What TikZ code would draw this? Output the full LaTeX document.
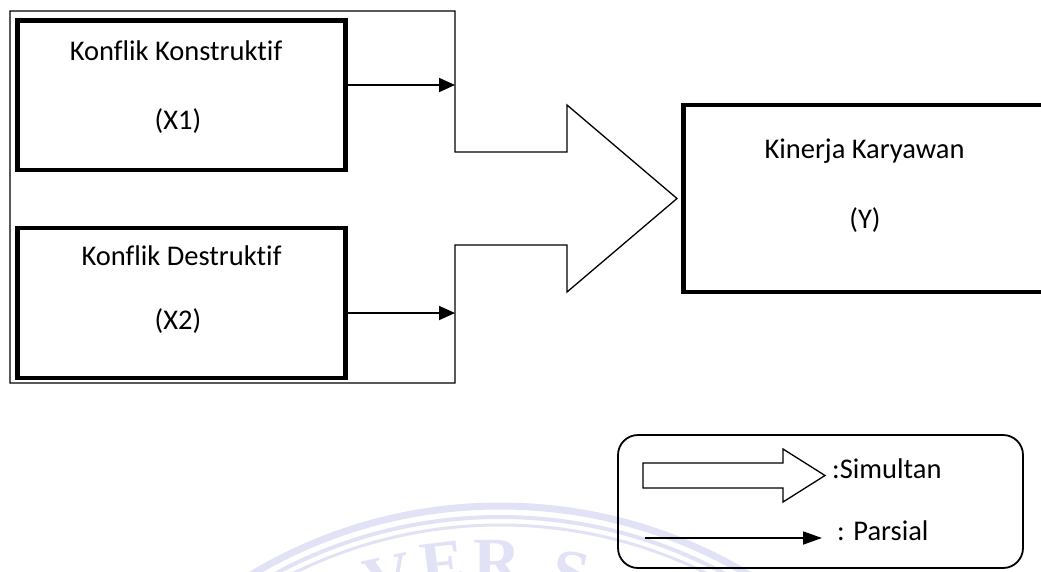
\documentclass[tikz,border=0pt]{standalone}
\usepackage{fontspec}
\setmainfont{Carlito}[Ligatures=NoCommon]
\newfontfamily\wmfont{Liberation Serif}
\usetikzlibrary{arrows.meta,calc}
\definecolor{wm}{RGB}{226,226,246}
\begin{document}
\begin{tikzpicture}[x=1pt,y=-1pt,
  box/.style={draw,line width=4.5pt,inner sep=0pt},
  lbl/.style={font=\fontsize{28.5}{32}\selectfont,anchor=base,inner sep=0pt},
  parr/.style={line width=1.8pt,-{Triangle[length=16pt,width=14pt]}},
  outline/.style={line width=1.3pt,line join=miter},
  wmtext/.style={text=wm,font=\wmfont\bfseries\fontsize{66}{70}\selectfont,anchor=north,inner sep=0pt}]
\useasboundingbox (0,0) rectangle (1041,571);
% watermark
\begin{scope}
\clip (0,0) rectangle (1041,571);
\draw[wm,line width=7pt] (500,990) circle[radius=484];
\draw[wm,line width=4pt] (500,990) circle[radius=473];
\draw[wm,line width=3pt] (500,990) circle[radius=465];
\node[wmtext,rotate=12] (wv) at (384,557) {V};
\node[wmtext,rotate=7] (we) at (440,543) {E};
\node[wmtext] (wr) at (497,540) {R};
\node[wmtext,rotate=-9] (ws) at (574,552) {S};
\end{scope}
% outer block arrow
\draw[outline] (10,11) -- (455,11) -- (455,152) -- (567,152) -- (567,105) -- (677,198.5)
  -- (567,292) -- (567,245) -- (455,245) -- (455,383) -- (10,383) -- cycle;
\coordinate (t1) at (455,85);
\coordinate (t2) at (455,313);
% boxes
\node[box,minimum width=328pt,minimum height=149.5pt] (x1) at (181.5,95.25) {};
\node[box,minimum width=328pt,minimum height=150pt] (x2) at (181.5,303) {};
\begin{scope}
\clip (0,0) rectangle (1041,571);
\node[box,minimum width=362pt,minimum height=187pt] (y) at (864.5,198.5) {};
\end{scope}
\node[lbl] (x1a) at (176,60) {Konflik Konstruktif};
\node[lbl] (x1b) at (178,129) {(X1)};
\node[lbl] (x2a) at (181.5,265) {Konflik Destruktif};
\node[lbl] (x2b) at (178,329) {(X2)};
\node[lbl] (ya) at (864.5,158) {Kinerja Karyawan};
\node[lbl] (yb) at (865,228) {(Y)};
% partial arrows
\draw[parr] (x1.east |- t1) -- (t1);
\draw[parr] (x2.east |- t2) -- (t2);
% legend
\node[draw,line width=1.8pt,rounded corners=20pt,minimum width=405pt,minimum height=133pt,inner sep=0pt] (legend) at (820.5,501.5) {};
\draw[outline] (643,463) -- (783,463) -- (783,449) -- (825,475.5) -- (783,502) -- (783,488) -- (643,488) -- cycle;
\coordinate (ps) at (645,538);
\coordinate (pe) at (822,538);
\draw[parr,-{Triangle[length=19pt,width=13pt]}] (ps) -- (pe);
\node[lbl,anchor=base west] (ls) at (832,478) {:Simultan};
\node[lbl,anchor=base west] (lp) at (837,540) {: Parsial};
\end{tikzpicture}
\end{document}
